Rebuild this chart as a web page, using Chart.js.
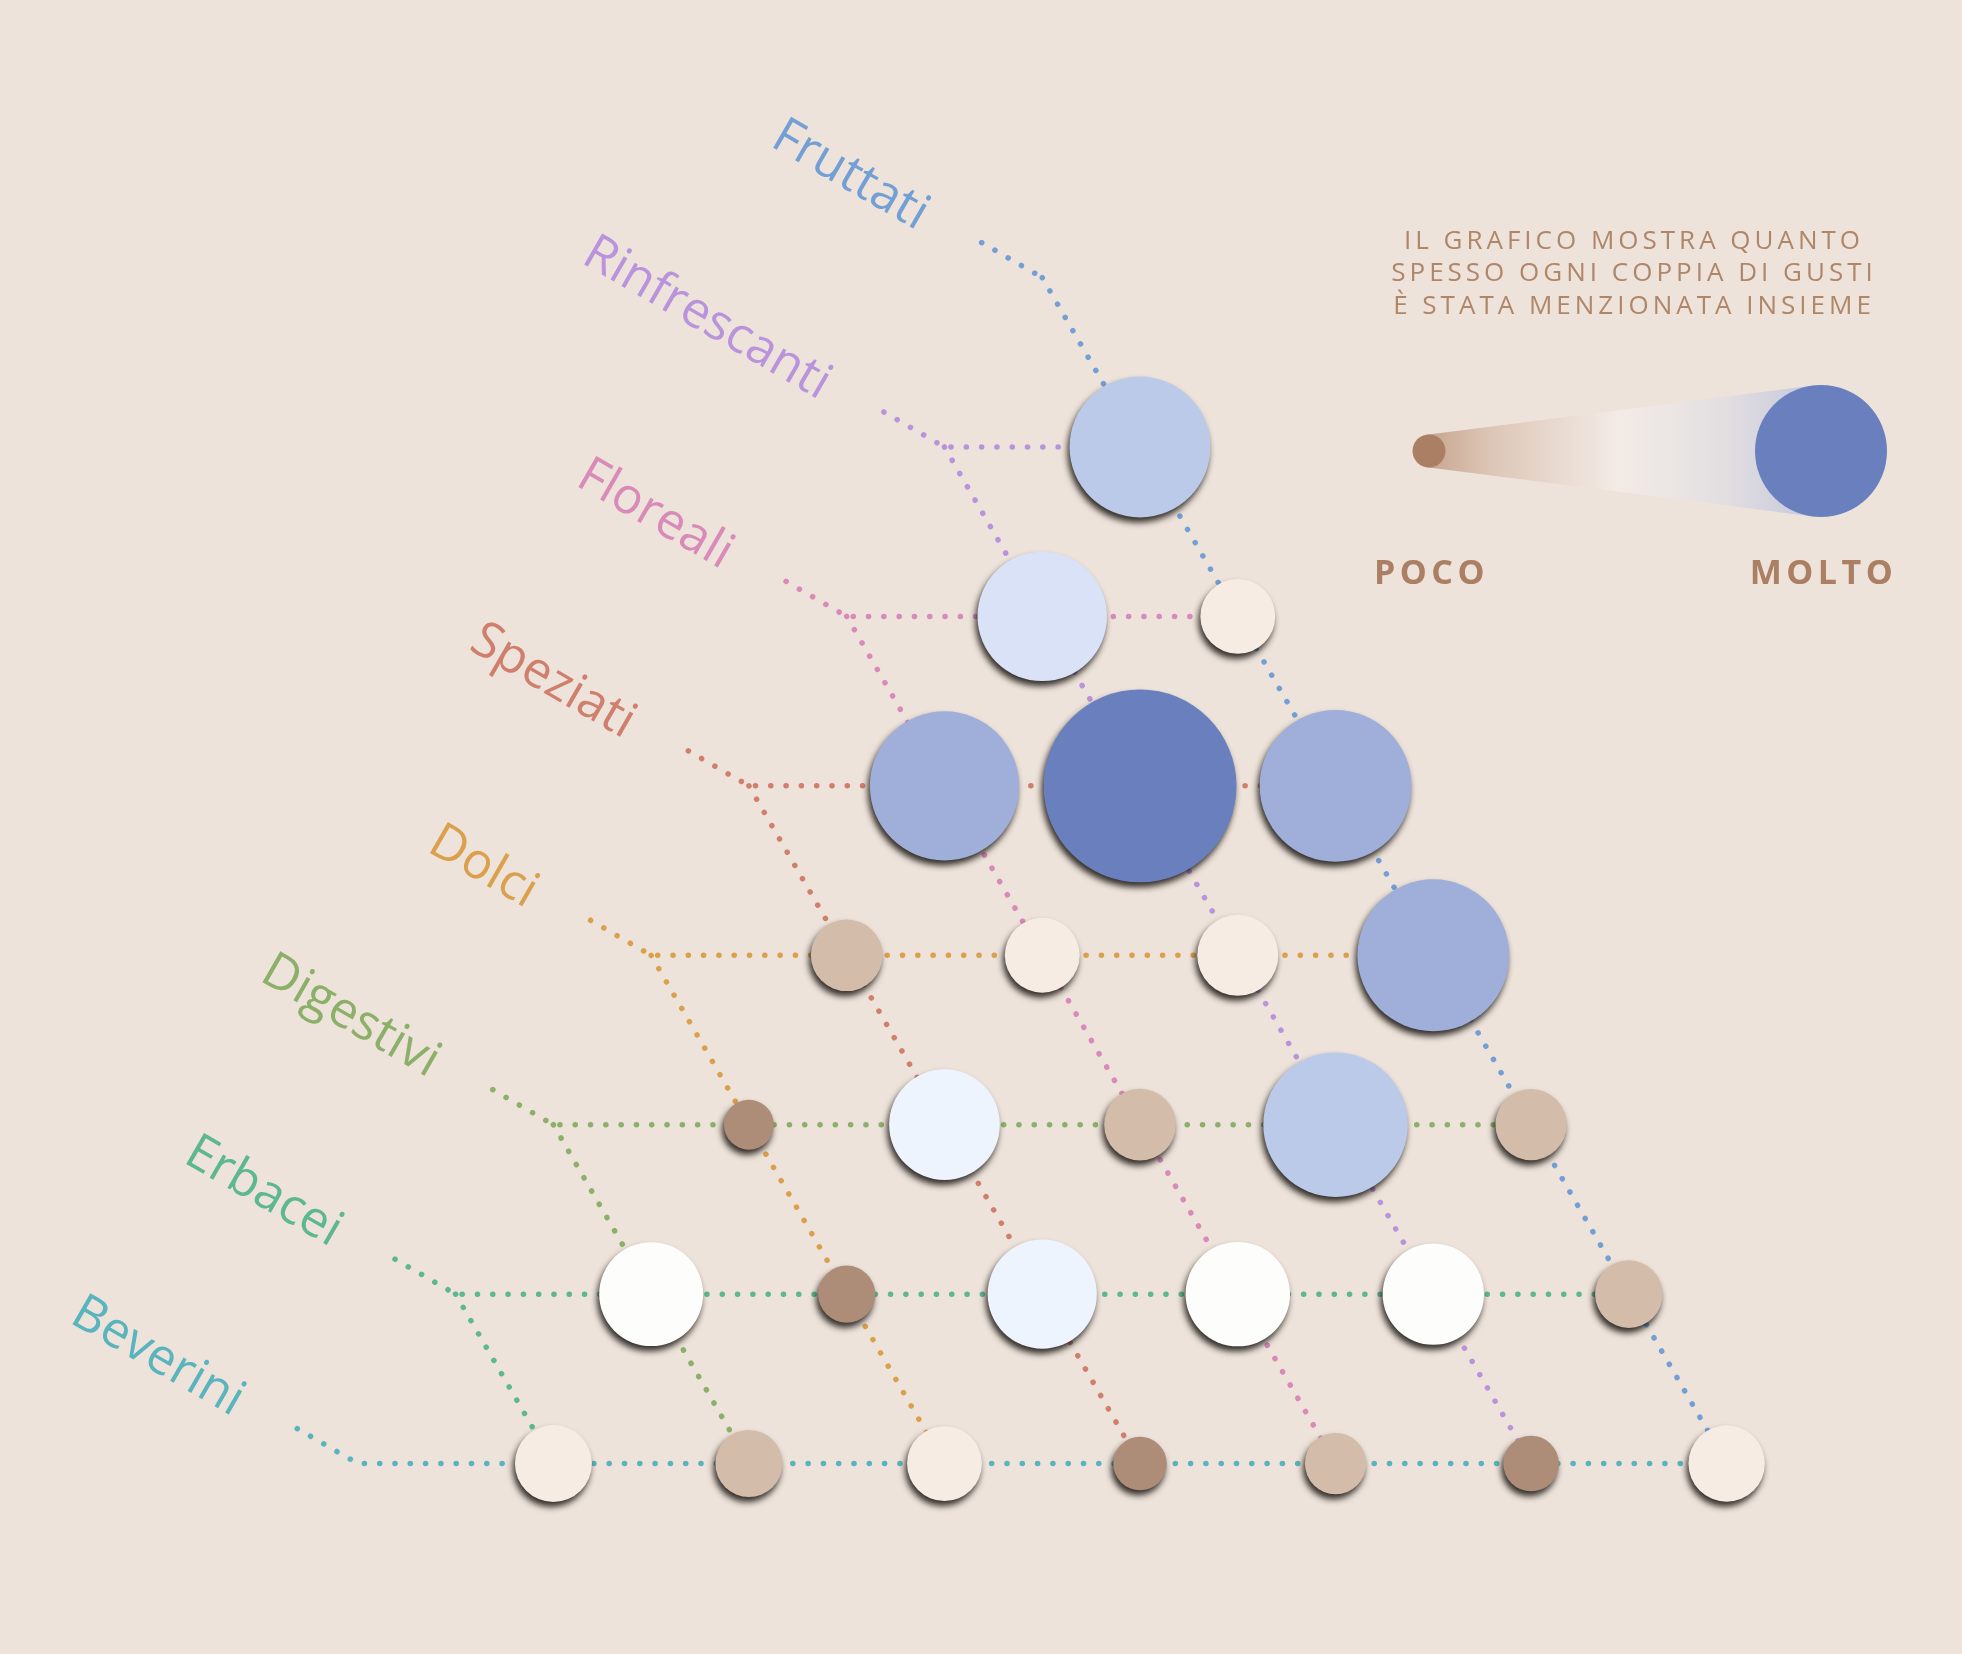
<!DOCTYPE html>
<html lang="it">
<head>
<meta charset="utf-8">
<title>Coppie di gusti</title>
<script src="https://cdn.jsdelivr.net/npm/chart.js@4.4.1/dist/chart.umd.min.js"></script>
<style>
  html, body { margin: 0; padding: 0; background: #ede3da; }
  #wrap { position: relative; width: 1962px; height: 1654px; }
</style>
</head>
<body>
<div id="wrap"><canvas id="gusti-chart"></canvas></div>
<script>
const gusti = ['Fruttati', 'Rinfrescanti', 'Floreali', 'Speziati', 'Dolci', 'Digestivi', 'Erbacei', 'Beverini']
const coloriGusti = ['#739fd4', '#b993dc', '#d98ab8', '#d07f6d', '#dba04d', '#8cb06a', '#5db891', '#5ab4bd']

// one row per flavour: how often it was named together with each flavour above it (Fruttati first)
const rinfrescanti = [19.4]
const floreali = [6.7, 17.2]
const speziati = [21.5, 29.4, 21.0]
const dolci = [21.5, 7.9, 6.7, 6.1]
const digestivi = [6.0, 20.1, 6.1, 13.6, 1.9]
const erbacei = [5.3, 11.8, 12.4, 13.3, 3.3, 12.3]
const beverini = [7.0, 3.0, 4.1, 2.6, 6.7, 5.2, 7.1]
const righe = [[], rinfrescanti, floreali, speziati, dolci, digestivi, erbacei, beverini]

const legendaTesto = ['IL GRAFICO MOSTRA QUANTO', 'SPESSO OGNI COPPIA DI GUSTI', 'È STATA MENZIONATA INSIEME']
const legendaEstremi = ['POCO', 'MOLTO']

// short lead from each knee up to its label (axis units, about 30 degrees)
const LEAD = { x: -0.62, y: -0.2066 }

function coloreBolla(v){
  if (v < 3.7) return '#ad8d77'
  if (v < 6.4) return '#d3bca9'
  if (v < 10) return '#f6ece3'
  if (v < 12.9) return '#fdfdfc'
  if (v < 15.5) return '#eef4fe'
  if (v < 18.5) return '#d9e2f6'
  if (v < 20.7) return '#bccaea'
  if (v < 25) return '#9fafda'
  return '#6a7fbe'
}

const bolle = []
righe.forEach((valori, r) => {
  valori.forEach((v, c) => bolle.push({ x: r - 1 - 2 * c, y: r, v: v }))
})

const lineDatasets = []
gusti.forEach((g, i) => {
  const ginocchio = { x: -i - 1, y: i }
  const orizzontale = [{ x: ginocchio.x + LEAD.x, y: ginocchio.y + LEAD.y }, ginocchio]
  if (i > 0) orizzontale.push({ x: i - 1, y: i })
  lineDatasets.push({ type: 'line', label: g, data: orizzontale })
  if (i < gusti.length - 1) {
    lineDatasets.push({ type: 'line', label: g, data: [ginocchio, { x: 6 - 2 * i, y: 7 }] })
  }
})
lineDatasets.forEach(ds => {
  const col = coloriGusti[gusti.indexOf(ds.label)]
  Object.assign(ds, {
    borderColor: col,
    borderWidth: 5.5,
    borderDash: [0.1, 15.2],
    borderCapStyle: 'round',
    pointRadius: 0,
    tension: 0,
    order: 2
  })
})

const ombre = {
  id: 'ombre',
  beforeDatasetDraw(chart, args){
    if (args.meta.type !== 'bubble') return
    const ctx = chart.ctx
    ctx.save()
    ctx.shadowColor = 'rgba(20,15,12,0.85)'
    ctx.shadowBlur = 6
    ctx.shadowOffsetX = -2
    ctx.shadowOffsetY = 5
  },
  afterDatasetDraw(chart, args){
    if (args.meta.type !== 'bubble') return
    chart.ctx.restore()
  }
}

const decorazioni = {
  id: 'decorazioni',
  afterDraw(chart){
    const { ctx, scales: { x, y } } = chart

    // flavour names along the leads
    ctx.save()
    ctx.font = '400 50px "Open Sans"'
    ctx.textAlign = 'right'
    ctx.textBaseline = 'alphabetic'
    gusti.forEach((g, i) => {
      const px = x.getPixelForValue(-i - 1 + LEAD.x)
      const py = y.getPixelForValue(i + LEAD.y)
      ctx.save()
      ctx.translate(px, py)
      ctx.rotate(Math.PI / 6)
      ctx.fillStyle = coloriGusti[i]
      ctx.fillText(g, -62, 22)
      ctx.restore()
    })
    ctx.restore()

    // legend: cone from small to big circle
    const c1 = { x: 1429, y: 451, r: 16.5 }
    const c2 = { x: 1821, y: 451, r: 66 }
    const a = Math.asin((c2.r - c1.r) / (c2.x - c1.x))
    ctx.save()
    const grad = ctx.createLinearGradient(c1.x, 0, c2.x, 0)
    grad.addColorStop(0, '#c8a690')
    grad.addColorStop(0.15, '#dcc5b5')
    grad.addColorStop(0.48, '#f3ebe6')
    grad.addColorStop(0.75, '#e3dfe1')
    grad.addColorStop(1, '#c3c6dc')
    ctx.fillStyle = grad
    ctx.beginPath()
    ctx.moveTo(c1.x - c1.r * Math.sin(a), c1.y - c1.r * Math.cos(a))
    ctx.lineTo(c2.x - c2.r * Math.sin(a), c2.y - c2.r * Math.cos(a))
    ctx.lineTo(c2.x - c2.r * Math.sin(a), c2.y + c2.r * Math.cos(a))
    ctx.lineTo(c1.x - c1.r * Math.sin(a), c1.y + c1.r * Math.cos(a))
    ctx.closePath()
    ctx.fill()
    ctx.fillStyle = '#ab7f63'
    ctx.beginPath()
    ctx.arc(c1.x, c1.y, c1.r, 0, Math.PI * 2)
    ctx.fill()
    ctx.fillStyle = '#6a7fbe'
    ctx.beginPath()
    ctx.arc(c2.x, c2.y, c2.r, 0, Math.PI * 2)
    ctx.fill()

    ctx.fillStyle = '#b08669'
    ctx.textAlign = 'center'
    ctx.font = '400 26px "Open Sans"'
    ctx.letterSpacing = '4px'
    legendaTesto.forEach((t, k) => ctx.fillText(t, 1634, 249 + k * 32.3))

    ctx.fillStyle = '#ab7f63'
    ctx.font = '700 34px "Open Sans"'
    ctx.letterSpacing = '4.5px'
    ctx.fillText(legendaEstremi[0], c1.x + 2.5, 584)
    ctx.fillText(legendaEstremi[1], c2.x + 2.5, 584)
    ctx.restore()
  }
}

const chart = new Chart(document.getElementById('gusti-chart'), {
  type: 'bubble',
  data: {
    datasets: [{
      label: 'coppie',
      data: bolle,
      order: 0,
      radius: ctx => 20 + 2.6 * ctx.raw.v,
      backgroundColor: ctx => coloreBolla(ctx.raw.v),
      borderWidth: 0,
      hoverRadius: 0
    }].concat(lineDatasets)
  },
  options: {
    responsive: true,
    maintainAspectRatio: false,
    animation: false,
    events: [],
    layout: { padding: 0, autoPadding: false },
    scales: {
      x: { type: 'linear', display: false, min: -11.66, max: 8.407 },
      y: { type: 'linear', display: false, reverse: true, min: -1.638, max: 8.124 }
    },
    plugins: {
      legend: { display: false },
      tooltip: { enabled: false }
    }
  },
  plugins: [ombre, decorazioni]
})
</script>
</body>
</html>
